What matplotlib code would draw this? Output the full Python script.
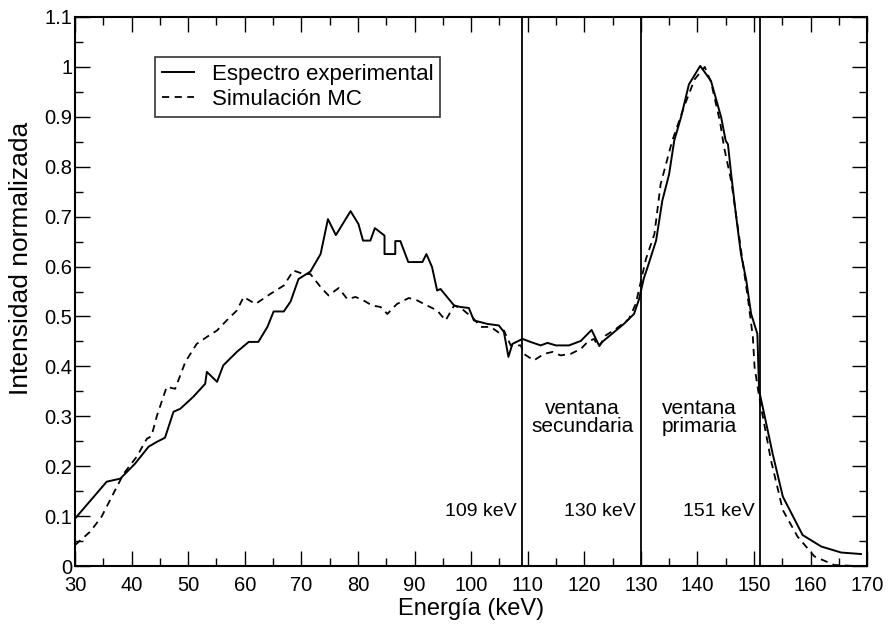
import matplotlib
matplotlib.use('Agg')
import matplotlib.pyplot as plt
from matplotlib.ticker import MultipleLocator, FuncFormatter

plt.rcParams['font.family'] = ['Liberation Sans', 'DejaVu Sans']

# espectro experimental (linea continua)
exp_e = [30, 35.6, 38.0, 40.6, 43.0, 44.5, 45.9, 47.4, 48.6, 50.9, 53.0, 53.3, 55.1,
         56.2, 58.6, 60.7, 62.4, 64.0, 65.1, 66.9, 68.1, 69.5, 71.6, 73.4, 74.7, 76.1,
         78.7, 80.1, 80.9, 82.2, 83.0, 84.7, 84.7, 86.6, 86.6, 87.5, 88.9, 91.4, 92.1,
         93.1, 94.0, 94.6, 97.0, 98.1, 99.6, 100.5, 102.9, 104.9, 105.8, 106.6, 107.3,
         109.1, 110.5, 112.3, 113.5, 115.0, 117.3, 119.4, 121.3, 122.6, 123.5, 127.0,
         128.8, 129.7, 130.5, 131.2, 132.7, 133.8, 135.0, 135.9, 137.1, 138.5, 140.5,
         142.4, 144.2, 145.0, 145.4, 145.9, 146.8, 147.7, 148.6, 149.5, 150.6, 150.9,
         151.8, 153.3, 155.1, 158.6, 161.9, 165.4, 168.9]
exp_i = [0.095, 0.169, 0.175, 0.205, 0.239, 0.249, 0.257, 0.309, 0.315, 0.339, 0.365,
         0.389, 0.369, 0.402, 0.429, 0.449, 0.449, 0.479, 0.51, 0.51, 0.53, 0.575, 0.59,
         0.625, 0.695, 0.663, 0.711, 0.685, 0.652, 0.652, 0.677, 0.662, 0.625, 0.625,
         0.651, 0.651, 0.609, 0.609, 0.625, 0.599, 0.552, 0.555, 0.522, 0.519, 0.517,
         0.492, 0.485, 0.482, 0.469, 0.419, 0.445, 0.455, 0.449, 0.442, 0.447, 0.442,
         0.442, 0.451, 0.473, 0.442, 0.452, 0.485, 0.505, 0.535, 0.575, 0.599, 0.652,
         0.732, 0.785, 0.852, 0.899, 0.965, 1.002, 0.972, 0.899, 0.852, 0.845, 0.792,
         0.705, 0.625, 0.575, 0.505, 0.465, 0.352, 0.305, 0.225, 0.139, 0.062, 0.039,
         0.027, 0.024]

# simulacion Monte Carlo (discontinua)
mc_e = [30, 32.7, 34.7, 36.5, 38.6, 40.9, 42.7, 43.5, 44.5, 46.2, 47.7, 49.5, 51.5,
        53.3, 55.1, 56.8, 58.6, 59.8, 61.9, 64.5, 66.9, 68.6, 70.4, 71.6, 73.4, 74.8,
        76.6, 78.1, 79.6, 81.0, 82.5, 84.0, 85.2, 86.9, 89.0, 90.5, 92.2, 94.0, 95.5,
        97.0, 98.4, 100.5, 101.7, 103.5, 105.2, 105.8, 107.0, 108.8, 109.3, 111.1,
        112.9, 114.4, 115.8, 117.6, 119.4, 120.6, 121.7, 122.6, 123.8, 125.6, 127.9,
        129.1, 130.9, 132.4, 133.5, 135.5, 137.7, 139.5, 141.3, 142.4, 144.0, 144.7,
        146.0, 147.0, 148.0, 149.0, 149.8, 150.1, 150.9, 153.0, 155.1, 157.7, 160.7,
        164.2, 167.8]
mc_i = [0.042, 0.069, 0.099, 0.139, 0.185, 0.219, 0.255, 0.26, 0.302, 0.359, 0.355,
        0.409, 0.445, 0.459, 0.472, 0.492, 0.512, 0.539, 0.525, 0.545, 0.562, 0.592,
        0.585, 0.585, 0.559, 0.542, 0.557, 0.535, 0.539, 0.532, 0.522, 0.519, 0.505,
        0.525, 0.537, 0.532, 0.522, 0.512, 0.492, 0.522, 0.515, 0.495, 0.479, 0.479,
        0.465, 0.472, 0.442, 0.442, 0.425, 0.412, 0.425, 0.429, 0.422, 0.425, 0.435,
        0.449, 0.455, 0.439, 0.462, 0.475, 0.495, 0.525, 0.615, 0.665, 0.765, 0.85,
        0.922, 0.975, 1.0, 0.97, 0.89, 0.84, 0.77, 0.69, 0.61, 0.53, 0.459, 0.399,
        0.34, 0.212, 0.112, 0.059, 0.019, 0.002, 0.0]

window_edges = [109, 130, 151]
edge_labels = ['109 keV', '130 keV', '151 keV']
window_names = ['ventana\nsecundaria', 'ventana\nprimaria']
window_centers = [119.7, 140.3]

fig = plt.figure(figsize=(8.88, 6.25), dpi=100)
ax = fig.add_axes([0.0845, 0.0944, 0.892, 0.8784])

ax.plot(exp_e, exp_i, color='black', lw=1.4, label='Espectro experimental')
ax.plot(mc_e, mc_i, color='black', lw=1.3, linestyle=(0, (4, 3)), label='Simulación MC')

for edge, lab in zip(window_edges, edge_labels):
    ax.axvline(edge, color='black', lw=1.3)
    ax.text(edge - 0.9, 0.109, lab, ha='right', va='center', fontsize=14)

for xc, name in zip(window_centers, window_names):
    ax.text(xc, 0.297, name, ha='center', va='center', fontsize=15, linespacing=0.95)

ax.set_xlim(30, 170)
ax.set_ylim(0, 1.1)
ax.xaxis.set_major_locator(MultipleLocator(10))
ax.xaxis.set_minor_locator(MultipleLocator(5))
ax.yaxis.set_major_locator(MultipleLocator(0.1))
ax.yaxis.set_minor_locator(MultipleLocator(0.05))
ax.yaxis.set_major_formatter(FuncFormatter(lambda v, p: '%g' % round(v, 2)))

ax.tick_params(which='both', direction='in', top=True, right=True, labelsize=14.5)
ax.tick_params(which='major', length=11, width=1.0)
ax.tick_params(which='minor', length=6, width=1.0)
ax.tick_params(axis='x', pad=7)
ax.tick_params(axis='y', pad=2)
for s in ax.spines.values():
    s.set_linewidth(1.5)

ax.set_xlabel('Energía (keV)', fontsize=17, labelpad=2)
ax.set_ylabel('Intensidad normalizada', fontsize=19)
ax.yaxis.set_label_coords(-0.053, 0.56)

leg = ax.legend(loc='upper left', bbox_to_anchor=(0.101, 0.927), borderaxespad=0,
                fontsize=16, frameon=True, fancybox=False, edgecolor='black',
                handlelength=1.45, handletextpad=0.8, borderpad=0.3, labelspacing=0.2)
leg.get_frame().set_linewidth(1.2)

fig.savefig('out.png', dpi=100)
